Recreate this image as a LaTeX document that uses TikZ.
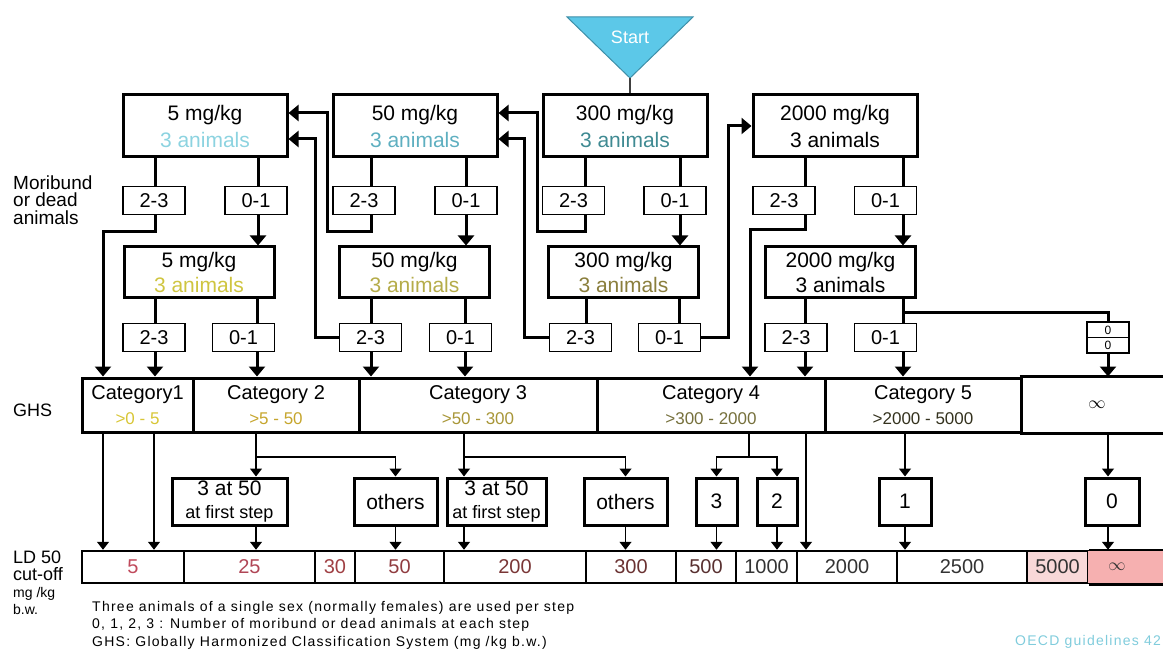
\documentclass[tikz,border=0pt]{standalone}
\usepackage{fontspec}
\setmainfont{Liberation Sans}
\newfontfamily\notefont[LetterSpace=9]{Liberation Sans}
\usetikzlibrary{arrows.meta,positioning}

% === colours ===
\definecolor{startblue}{HTML}{5CC8E8}
\definecolor{startedge}{HTML}{3E8FA8}
\definecolor{cyanA}{HTML}{8CD3E0}
\definecolor{cyanB}{HTML}{5EAFC0}
\definecolor{cyanC}{HTML}{3F8A92}
\definecolor{yelA}{HTML}{CFC540}
\definecolor{yelB}{HTML}{B5AC4A}
\definecolor{yelC}{HTML}{8A7E3C}
\definecolor{rngA}{HTML}{D8C636}
\definecolor{rngB}{HTML}{C6A62E}
\definecolor{rngC}{HTML}{A89638}
\definecolor{rngD}{HTML}{76703C}
\definecolor{rngE}{HTML}{34321E}
\definecolor{ldA}{HTML}{C04A5C}
\definecolor{ldB}{HTML}{B04656}
\definecolor{ldC}{HTML}{A04044}
\definecolor{ldD}{HTML}{903C40}
\definecolor{ldE}{HTML}{7A3636}
\definecolor{ldF}{HTML}{6A3232}
\definecolor{ldG}{HTML}{583030}
\definecolor{ldH}{HTML}{333333}
\definecolor{pinkA}{HTML}{F8D8D8}
\definecolor{pinkB}{HTML}{F6B0B0}
\definecolor{oecd}{HTML}{80CCDC}

\begin{document}
\begin{tikzpicture}[x=1pt, y=-1pt,
	dosebox/.style={draw, line width=3pt, inner sep=0pt, align=center,
		minimum width=164pt, minimum height=62pt, font=\fontsize{21}{27}\selectfont},
	retestbox/.style={dosebox, minimum width=150pt, minimum height=51pt,
		font=\fontsize{21}{25}\selectfont},
	tallybox/.style={draw, line width=1.5pt, inner sep=0pt, minimum width=62pt,
		minimum height=28pt, font=\fontsize{20}{20}\selectfont},
	catcell/.style={draw, line width=3pt, inner sep=0pt, align=center,
		minimum height=54pt, font=\fontsize{20}{25}\selectfont},
	ldcell/.style={draw, line width=2.5pt, inner sep=0pt, minimum height=32pt,
		font=\fontsize{20}{20}\selectfont},
	outbox/.style={draw, line width=3pt, inner sep=0pt, align=center,
		minimum height=47pt, font=\fontsize{21}{23}\selectfont},
	wire/.style={line width=3pt},
	wirearr/.style={wire, -{Triangle[width=16pt,length=10pt]}},
	thinwire/.style={line width=1.5pt},
	thinarr/.style={thinwire, -{Triangle[width=12pt,length=8pt]}},
	sidetext/.style={inner sep=0pt, align=left, font=\fontsize{19}{17.5}\selectfont},
	notetext/.style={inner sep=0pt, align=left, font=\notefont\fontsize{14}{17.5}\selectfont},
	]
	\useasboundingbox (0,0) rectangle (1163,655);

	% === Start ===
	\filldraw[fill=startblue, draw=startedge, line width=1pt] (567,17) -- (693,17) -- (630,78) -- cycle;
	\coordinate (apex) at (630,78);
	\node[text=white, font=\fontsize{18}{18}\selectfont] (start) at (630,37) {Start};

	% === first dose, 3 animals ===
	\node[dosebox] (s5a)    at (205,126) {5 mg/kg\\\textcolor{cyanA}{3 animals}};
	\node[dosebox] (s50a)   at (415,126) {50 mg/kg\\\textcolor{cyanB}{3 animals}};
	\node[dosebox] (s300a)  at (625,126) {300 mg/kg\\\textcolor{cyanC}{3 animals}};
	\node[dosebox] (s2000a) at (835,126) {2000 mg/kg\\3 animals};
	\draw[line width=2pt, draw=black!75] (apex) -- (apex |- s300a.north);

	% === deaths after first dose ===
	\foreach \nm/\cx/\txt in {a23/154/2-3, a01/256/0-1, b23/364/2-3, b01/466/0-1,
		c23/573.5/2-3, c01/675/0-1, d23/784/2-3, d01/885.5/0-1}
		\node[tallybox] (\nm) at (\cx,200.5) {\txt};

	% === repeat dose, 3 animals ===
	\node[retestbox] (s5b)    at (199,272.5)   {5 mg/kg\\\textcolor{yelA}{3 animals}};
	\node[retestbox] (s50b)   at (414.5,272.5) {50 mg/kg\\\textcolor{yelB}{3 animals}};
	\node[retestbox] (s300b)  at (623.5,272.5) {300 mg/kg\\\textcolor{yelC}{3 animals}};
	\node[retestbox] (s2000b) at (840.5,272.5) {2000 mg/kg\\3 animals};

	% === deaths after repeat dose ===
	\foreach \nm/\cx/\txt in {a23b/154/2-3, a01b/243.5/0-1, b23b/370.5/2-3, b01b/460.5/0-1,
		c23b/580.5/2-3, c01b/669.5/0-1, d23b/796/2-3, d01b/885.5/0-1}
		\node[tallybox] (\nm) at (\cx,337.5) {\txt};
	\node[draw, line width=1.5pt, inner sep=0pt, minimum width=42pt, minimum height=31pt,
		align=center, font=\fontsize{12}{15}\selectfont] (zz) at (1108,337.5) {0\\0};
	\draw[line width=1.5pt] (zz.west) -- (zz.east);

	% === GHS categories ===
	\foreach \nm/\cx/\w/\title/\range/\col in {cat1/137.5/111/Category1/{>0 - 5}/rngA,
		cat2/276/166/Category 2/{>5 - 50}/rngB, cat3/478/238/Category 3/{>50 - 300}/rngC,
		cat4/711/228/Category 4/{>300 - 2000}/rngD, cat5/923/196/Category 5/{>2000 - 5000}/rngE}
		\node[catcell, minimum width=\w pt] (\nm) at (\cx,405)
			{\title\\{\fontsize{17}{17}\selectfont\textcolor{\col}{\range}}};
	\node[catcell, draw=none, minimum width=142pt] (cat6) at (1092,405) {};
	\node[font=\fontsize{16}{16}\selectfont] (inf) at (1097,405) {$\infty$};
	\draw[wire] (cat6.north west) -- (cat6.north east) (cat6.south west) -- (cat6.south east);

	% === outcome boxes ===
	\node[outbox, minimum width=115pt] (fs1) at (229.5,501.5) {3 at 50\\{\fontsize{18}{18}\selectfont at first step}};
	\node[outbox, minimum width=83pt]  (ot1) at (395.5,501.5) {others};
	\node[outbox, minimum width=99pt]  (fs2) at (496.5,501.5) {3 at 50\\{\fontsize{18}{18}\selectfont at first step}};
	\node[outbox, minimum width=83pt]  (ot2) at (625.5,501.5) {others};
	\node[outbox, minimum width=41pt]  (n3)  at (716.5,501.5) {3};
	\node[outbox, minimum width=40pt]  (n2)  at (777,501.5)   {2};
	\node[outbox, minimum width=52pt]  (n1)  at (905,501.5)   {1};
	\node[outbox, minimum width=54pt]  (n0)  at (1112,501.5)  {0};

	% === LD50 cut-off ===
	\foreach \nm/\cx/\w/\val/\col in {ld1/133/102/5/ldA, ld2/249.5/131/25/ldB, ld3/335/40/30/ldC,
		ld4/399.5/89/50/ldD, ld5/515/142/200/ldE, ld6/631/90/300/ldF, ld7/706/60/500/ldG,
		ld8/766.5/61/1000/ldH, ld9/847/100/2000/ldH, ld10/962/130/2500/ldH}
		\node[ldcell, minimum width=\w pt, text=\col] (\nm) at (\cx,567) {\val};
	\node[ldcell, fill=pinkA, minimum width=61pt, text=ldH] (ld11) at (1057.5,567) {5000};
	\node[ldcell, draw=none, fill=pinkB, minimum width=75pt] (ld12) at (1125.5,567) {};
	\node[font=\fontsize{16}{16}\selectfont, text=ldH] (infb) at (1117,567) {$\infty$};
	\draw[line width=2.5pt] (ld11.north east) -- (ld12.north east) (ld11.south east) -- (ld12.south east);

	% === first dose -> counts ===
	\foreach \up/\sm/\lx in {s5a/a23/155, s5a/a01/258, s50a/b23/371, s50a/b01/466,
		s300a/c23/585, s300a/c01/680, s2000a/d23/805, s2000a/d01/903}
		\draw[wire] (\up.south -| \lx,0) -- (\sm.north -| \lx,0);
	\foreach \sm/\dn/\lx in {a01/s5b/258, b01/s50b/466, c01/s300b/680, d01/s2000b/903}
		\draw[wirearr] (\sm.south -| \lx,0) -- (\dn.north -| \lx,0);

	% === repeat dose -> counts ===
	\foreach \up/\sm/\lx in {s5b/a23b/155, s5b/a01b/257, s50b/b23b/371, s50b/b01b/465,
		s300b/c23b/586, s300b/c01b/679, s2000b/d23b/805, s2000b/d01b/903}
		\draw[wire] (\up.south -| \lx,0) -- (\sm.north -| \lx,0);
	\draw[wire] (903,313) -| (zz.north);

	% === counts -> categories ===
	\foreach \sm/\cat/\lx in {a23b/cat1/155, a01b/cat2/257, b23b/cat3/371, b01b/cat3/465,
		d23b/cat4/805, d01b/cat5/903, zz/cat6/1108}
		\draw[wirearr] (\sm.south -| \lx,0) -- (\cat.north -| \lx,0);
	\draw[wirearr] (a23.south -| 155,0) |- (103,232) -- (cat1.north -| 103,0);
	\draw[wirearr] (d23.south -| 805,0) |- (750,230) -- (cat4.north -| 750,0);

	% === step down / step up ===
	\draw[wirearr] (b23.south -| 371,0) |- (327,232) |- ([yshift=13pt]s5a.east);
	\draw[wirearr] (b23b.west) -| (315,139) -- ([yshift=-13pt]s5a.east);
	\draw[wirearr] (c23.south -| 585,0) |- (537,232) |- ([yshift=13pt]s50a.east);
	\draw[wirearr] (c23b.west) -| (524,139) -- ([yshift=-13pt]s50a.east);
	\draw[wirearr] (c01b.east) -| (728,126) -- (s2000a.west);

	% === categories -> outcomes -> LD50 ===
	\draw[thinarr] (cat1.south -| 103,0) -- (ld1.north -| 103,0);
	\draw[thinarr] (cat1.south -| 154,0) -- (ld1.north -| 154,0);
	\draw[thinarr] (cat2.south -| 256,0) -- (fs1.north -| 256,0);
	\draw[thinarr] (256,457) -| (ot1.north);
	\draw[thinarr] (cat3.south -| 464,0) -- (fs2.north -| 464,0);
	\draw[thinarr] (464,457) -| (ot2.north);
	\draw[thinwire] (cat4.south -| 749,0) -- (749,457);
	\draw[thinarr] (749,457) -| (n3.north);
	\draw[thinarr] (749,457) -| (n2.north);
	\draw[thinarr] (cat4.south -| 806,0) -- (ld9.north -| 806,0);
	\draw[thinarr] (cat5.south -| n1.north) -- (n1.north);
	\draw[thinarr] (cat6.south -| 1108,0) -- (n0.north -| 1108,0);
	\draw[thinarr] (fs1.south -| 256,0) -- (ld2.north -| 256,0);
	\draw[thinarr] (ot1.south) -- (ld4.north -| ot1.south);
	\draw[thinarr] (fs2.south -| 464,0) -- (ld5.north -| 464,0);
	\draw[thinarr] (ot2.south) -- (ld6.north -| ot2.south);
	\draw[thinarr] (n3.south) -- (ld7.north -| n3.south);
	\draw[thinarr] (n2.south) -- (ld8.north -| n2.south);
	\draw[thinarr] (n1.south) -- (ld10.north -| n1.south);
	\draw[thinarr] (n0.south -| 1108,0) -- (ld12.north -| 1108,0);

	% === side labels and notes ===
	\node[sidetext, anchor=west] (moribund) at (13,200) {Moribund\\or dead\\animals};
	\node[sidetext, anchor=west, font=\fontsize{18}{18}\selectfont] (ghs) at (13,410) {GHS};
	\node[sidetext, anchor=north west, font=\fontsize{18}{17}\selectfont] (ldlab) at (13,551)
		{LD 50\\cut-off\\{\fontsize{14}{15}\selectfont mg /kg}\\{\fontsize{14}{15}\selectfont b.w.}};
	\node[notetext, anchor=north west] (notes) at (92,601)
		{Three animals of a single sex (normally females) are used per step\\
		 0, 1, 2, 3 : Number of moribund or dead animals at each step\\
		 GHS: Globally Harmonized Classification System (mg /kg b.w.)};
	\node[notetext, anchor=west, text=oecd] (oecd) at (1015,642) {OECD guidelines 42};
\end{tikzpicture}
\end{document}
